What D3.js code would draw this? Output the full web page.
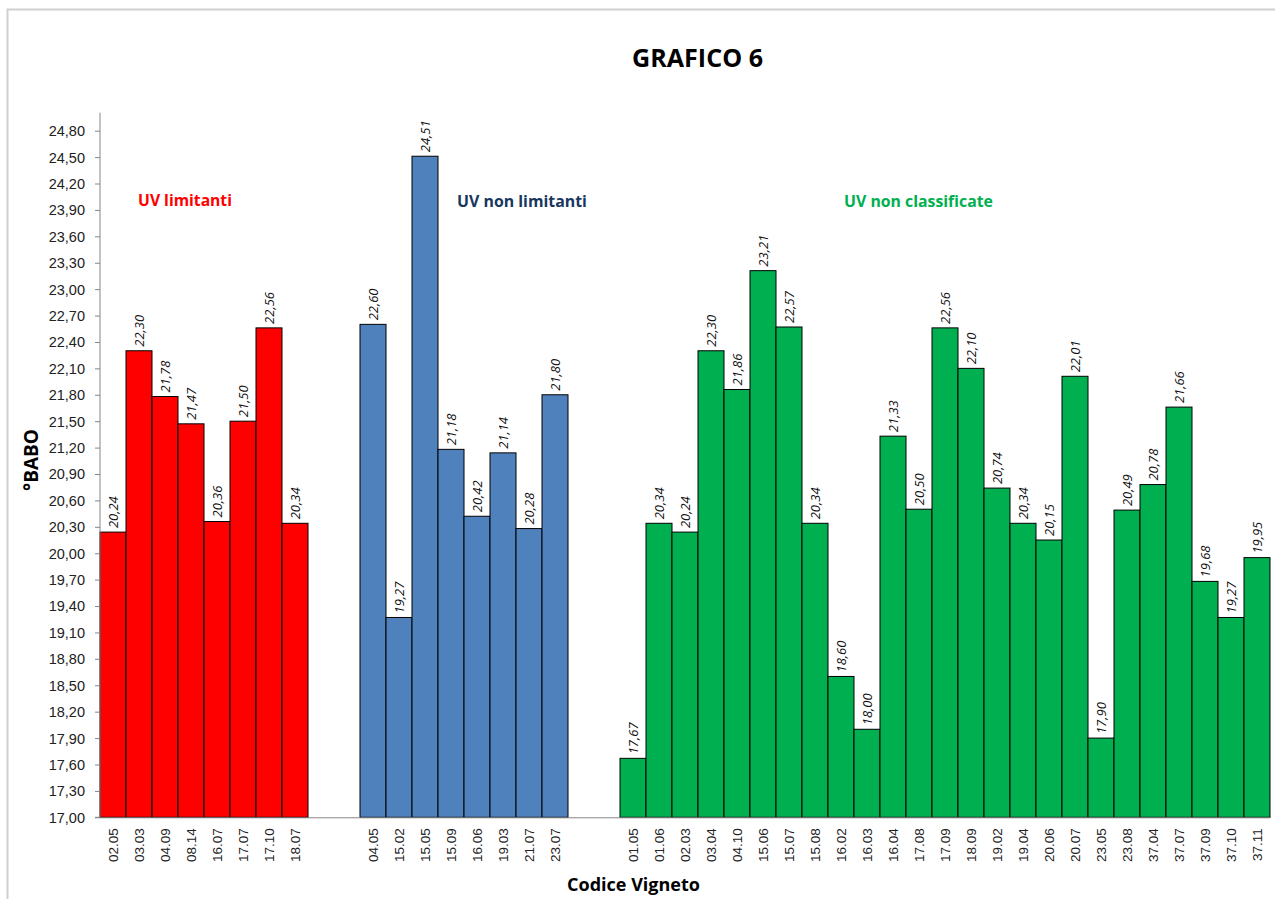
<!DOCTYPE html>
<html><head><meta charset="utf-8">
<script src="https://cdn.jsdelivr.net/npm/d3@7"></script>
<style>
html,body{margin:0;padding:0;background:#fff;}
svg{display:block;font-family:"Open Sans","Liberation Sans",sans-serif;}
</style></head>
<body>
<svg id="c" width="1275" height="899"></svg>
<script>
const redCats = ["02.05","03.03","04.09","08.14","16.07","17.07","17.10","18.07"];
const redVals = [20.24,22.30,21.78,21.47,20.36,21.50,22.56,20.34];
const blueCats = ["04.05","15.02","15.05","15.09","16.06","19.03","21.07","23.07"];
const blueVals = [22.60,19.27,24.51,21.18,20.42,21.14,20.28,21.80];
const greenCats = ["01.05","01.06","02.03","03.04","04.10","15.06","15.07","15.08","16.02","16.03","16.04","17.08","17.09","18.09","19.02","19.04","20.06","20.07","23.05","23.08","37.04","37.07","37.09","37.10","37.11"];
const greenVals = [17.67,20.34,20.24,22.30,21.86,23.21,22.57,20.34,18.60,18.00,21.33,20.50,22.56,22.10,20.74,20.34,20.15,22.01,17.90,20.49,20.78,21.66,19.68,19.27,19.95];
const yTicks = [17.00,17.30,17.60,17.90,18.20,18.50,18.80,19.10,19.40,19.70,20.00,20.30,20.60,20.90,21.20,21.50,21.80,22.10,22.40,22.70,23.00,23.30,23.60,23.90,24.20,24.50,24.80];
const groupNames = ["UV limitanti","UV non limitanti","UV non classificate"];
const groupColors = ["#FF0000","#4F81BD","#00B050"];
const groupLabelColors = ["#FF0000","#17375E","#00B050"];
const title = "GRAFICO 6";
const yTitle = "°BABO";
const xTitle = "Codice Vigneto";

const groups = [
  {cats: redCats, vals: redVals},
  {cats: blueCats, vals: blueVals},
  {cats: greenCats, vals: greenVals}
];

const slots = [];
const bars = [];
groups.forEach((g, gi) => {
  if (gi > 0) { slots.push("gap" + gi + "a"); slots.push("gap" + gi + "b"); }
  g.cats.forEach((c, i) => {
    const key = gi + "_" + c;
    slots.push(key);
    bars.push({key, cat: c, val: g.vals[i], g: gi});
  });
});

const svg = d3.select("#c");
const pLeft = 100, pRight = 1270, pTop = 130.7, pBottom = 817.3;

svg.append("path").attr("d", `M7.5,899 L7.5,9.5 L1275,9.5`)
  .attr("fill","none").attr("stroke","#D0D0D0").attr("stroke-width",2);

const x = d3.scaleBand().domain(slots).range([pLeft, pRight]).padding(0);
const y = d3.scaleLinear().domain([17, 24.8]).range([pBottom, pTop]);
const fmt = v => d3.format(".2f")(v).replace(".", ",");

// fit a text element's font-size so its length matches a target width
function fit(sel, target) {
  const node = sel.node();
  const fs = parseFloat(sel.attr("font-size"));
  const w = node.getComputedTextLength();
  if (w > 0) sel.attr("font-size", (fs * target / w).toFixed(2));
  return sel;
}

svg.append("g").selectAll("rect").data(bars).join("rect")
  .attr("x", d => x(d.key))
  .attr("y", d => y(d.val))
  .attr("width", x.bandwidth())
  .attr("height", d => y(17) - y(d.val))
  .attr("fill", d => groupColors[d.g])
  .attr("stroke", "#000")
  .attr("stroke-width", 1);

const yAxis = d3.axisLeft(y).tickValues(yTicks).tickSize(5).tickPadding(10).tickFormat(fmt);
const ga = svg.append("g").attr("transform", `translate(${pLeft},0)`).call(yAxis);
ga.select(".domain").attr("stroke", "#868686").attr("d", `M-5,${pBottom}H0V${pTop - 18}`);
ga.selectAll(".tick line").attr("stroke", "#868686");
ga.selectAll(".tick text").attr("font-size", 14.5).attr("fill", "#222").attr("dy", "0.34em");

const xAxis = d3.axisBottom(x).tickValues(bars.map(b => b.key)).tickSize(0).tickFormat(k => k.split("_")[1]);
const gx = svg.append("g").attr("transform", `translate(0,${pBottom})`).call(xAxis);
gx.select(".domain").attr("stroke", "#868686").attr("d", `M${pLeft},0.5H${pRight}`);
gx.selectAll(".tick text")
  .attr("font-size", 13.5).attr("fill", "#222")
  .attr("transform", "rotate(-90)")
  .attr("text-anchor", "end")
  .attr("x", -11).attr("y", 0).attr("dy", "0.35em");

const lbl = svg.append("g").selectAll("g").data(bars).join("g")
  .attr("transform", d => `translate(${x(d.key) + x.bandwidth()/2},${y(d.val) - 4}) rotate(-90)`);
lbl.append("rect").attr("x", -1).attr("y", -8).attr("width", 37).attr("height", 16).attr("fill", "#fff");
lbl.append("text").attr("x", 0).attr("dy", "0.35em")
  .attr("font-size", 13).attr("font-style", "italic").attr("fill", "#111")
  .text(d => fmt(d.val));

const glPos = [[185, 201, 94], [522, 201, 130], [918.5, 201, 149]];
groupNames.forEach((n, i) => {
  const t = svg.append("text").attr("x", glPos[i][0]).attr("y", glPos[i][1]).attr("dy", "0.35em")
    .attr("text-anchor", "middle").attr("font-size", 15).attr("font-weight", "bold")
    .attr("fill", groupLabelColors[i]).text(n);
  fit(t, glPos[i][2]);
});

fit(svg.append("text").attr("x", 697.5).attr("y", 58).attr("dy", "0.35em").attr("text-anchor", "middle")
  .attr("font-size", 22).attr("font-weight", "bold").attr("fill", "#000").text(title), 131);
fit(svg.append("text").attr("transform", "translate(31,460) rotate(-90)").attr("dy", "0.35em")
  .attr("text-anchor", "middle").attr("font-size", 16).attr("font-weight", "bold").attr("fill", "#000").text(yTitle), 62);
fit(svg.append("text").attr("x", 633.5).attr("y", 885).attr("dy", "0.35em").attr("text-anchor", "middle")
  .attr("font-size", 16).attr("font-weight", "bold").attr("fill", "#000").text(xTitle), 133);
</script>
</body></html>
